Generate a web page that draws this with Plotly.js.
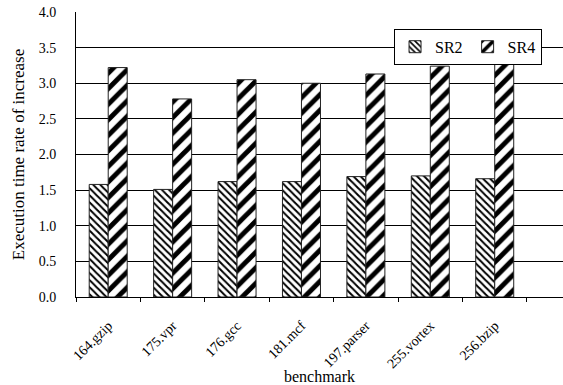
<!DOCTYPE html>
<html>
<head>
<meta charset="utf-8">
<script src="https://cdn.plot.ly/plotly-3.0.1.min.js"></script>
<style>html,body{margin:0;padding:0;background:#fff;}#chart{width:563px;height:385px;}</style>
</head>
<body>
<div id="chart"></div>
<script>
var categories = ["164.gzip", "175.vpr", "176.gcc", "181.mcf", "197.parser", "255.vortex", "256.bzip"];
var sr2 = [1.58, 1.51, 1.62, 1.62, 1.69, 1.70, 1.66];
var sr4 = [3.22, 2.78, 3.05, 3.00, 3.13, 3.24, 3.28];
var yTicks = [0, 0.5, 1.0, 1.5, 2.0, 2.5, 3.0, 3.5, 4.0];
var yTickText = ["0.0", "0.5", "1.0", "1.5", "2.0", "2.5", "3.0", "3.5", "4.0"];

var fam = "Liberation Serif, Times New Roman, serif";
var font = {family: fam, size: 14, color: "#000"};

var traces = [
  {
    type: "bar", name: "SR2", x: categories, y: sr2,
    marker: {color: "#fff", line: {color: "#222", width: 1},
      pattern: {shape: "\\", size: 5, solidity: 0.4, fgcolor: "#000", bgcolor: "#fff", fgopacity: 1, fillmode: "replace"}}
  },
  {
    type: "bar", name: "SR4", x: categories, y: sr4,
    marker: {color: "#fff", line: {color: "#222", width: 1},
      pattern: {shape: "/", size: 11, solidity: 0.45, fgcolor: "#000", bgcolor: "#fff", fgopacity: 1, fillmode: "replace"}}
  }
];

var layout = {
  width: 563, height: 385,
  margin: {l: 76, r: 0, t: 12, b: 88, pad: 0},
  paper_bgcolor: "#fff", plot_bgcolor: "#fff",
  font: font,
  barmode: "group", bargap: 0.41, bargroupgap: 0,
  showlegend: true,
  legend: {orientation: "h", x: 0.805, y: 0.941, xanchor: "center", yanchor: "top",
    bgcolor: "#fff", bordercolor: "#000", borderwidth: 1,
    font: {family: fam, size: 16, color: "#000"},
    itemwidth: 30, tracegroupgap: 0},
  xaxis: {
    type: "category", range: [-0.5, 7.06],
    showline: true, linecolor: "#000", linewidth: 1,
    ticks: "outside", tickson: "boundaries", ticklen: 4, tickcolor: "#000",
    tickangle: -45, ticklabelstandoff: 14,
    tickfont: {family: fam, size: 14, color: "#000"},
    showgrid: false, zeroline: false,
    title: {text: "benchmark", font: {family: fam, size: 16, color: "#000"}, standoff: 4}
  },
  yaxis: {
    range: [0, 4.0], tickvals: yTicks, ticktext: yTickText,
    showline: true, linecolor: "#000", linewidth: 1,
    ticks: "", ticklabelstandoff: 16,
    showgrid: true, gridcolor: "#000", gridwidth: 1,
    zeroline: false, tickfont: {family: fam, size: 14, color: "#000"},
    title: {text: "Execution time rate of increase", font: {family: fam, size: 17, color: "#000"}, standoff: 9}
  }
};

Plotly.newPlot("chart", traces, layout, {displayModeBar: false, staticPlot: true});
</script>
</body>
</html>
